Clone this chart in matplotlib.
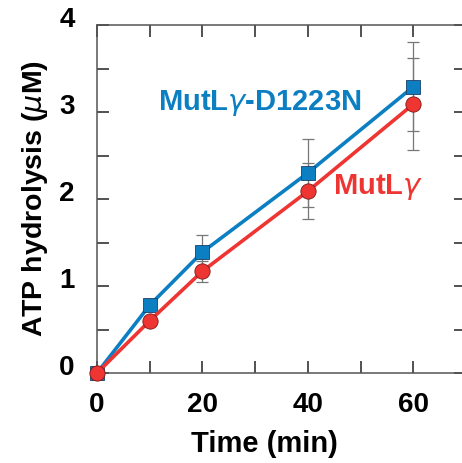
import matplotlib
matplotlib.use("Agg")
import matplotlib.pyplot as plt
import matplotlib.transforms as mtransforms

plt.rcParams['font.family'] = ['Liberation Sans', 'DejaVu Sans']
plt.rcParams['font.weight'] = 'bold'
plt.rcParams['mathtext.fontset'] = 'custom'
plt.rcParams['mathtext.it'] = 'DejaVu Sans:style=italic:weight=normal'
plt.rcParams['mathtext.rm'] = 'DejaVu Sans:weight=normal'
plt.rcParams['mathtext.bf'] = 'DejaVu Sans:style=italic:weight=normal'

time = [0, 10, 20, 40, 60]
mut_d1223n = [0.0, 0.78, 1.39, 2.30, 3.29]
mut_d1223n_err = [0.0, 0.05, 0.20, 0.39, 0.51]
mutl = [0.0, 0.60, 1.17, 2.09, 3.09]
mutl_err = [0.0, 0.05, 0.12, 0.32, 0.53]

x_major = [0, 20, 40, 60]
x_minor = [10, 30, 50, 70]
y_major = [0, 1, 2, 3, 4]
y_minor = [0.5, 1.5, 2.5, 3.5]

blue = '#0C7FC3'
red = '#EE3532'
W, H = 462, 463
fig = plt.figure(figsize=(W / 100, H / 100), dpi=100)
ax = fig.add_axes([97 / W, (H - 373) / H, (466 - 97) / W, (373 - 25) / H])

ax.errorbar(time, mut_d1223n, yerr=mut_d1223n_err, fmt='none', ecolor='#777777',
            elinewidth=0.9, capsize=4, capthick=0.9, zorder=2)
ax.errorbar(time, mutl, yerr=mutl_err, fmt='none', ecolor='#777777',
            elinewidth=0.9, capsize=4, capthick=0.9, zorder=2)
ax.plot(time, mutl, color=red, lw=2.6, marker='o', ms=11, mfc=red,
        mec='#7a1a1a', mew=0.6, zorder=4, clip_on=False)
ax.plot(time, mut_d1223n, color=blue, lw=2.6, marker='s', ms=10.5, mfc=blue,
        mec='#1b3f66', mew=0.6, zorder=3, clip_on=False)

ax.set_xlim(0, 70)
ax.set_ylim(0, 4)
ax.set_xticks(x_major + x_minor)
ax.set_xticklabels([str(v) for v in x_major] + [''] * len(x_minor))
ax.set_yticks(y_major + y_minor)
ax.set_yticklabels([str(v) for v in y_major] + [''] * len(y_minor))
ax.tick_params(direction='in', length=8.5, width=1.1, color='#222222',
               top=True, right=True, labelsize=20, pad=15)
ax.tick_params(axis='y', pad=16)
ax.tick_params(axis='x', pad=14)
offset = mtransforms.ScaledTranslation(0, 8 / 100, fig.dpi_scale_trans)
for lab in ax.get_yticklabels():
    lab.set_transform(lab.get_transform() + offset)
for sp in ax.spines.values():
    sp.set_color('#555555')
    sp.set_linewidth(1.1)

ax.set_xlabel('Time (min)', fontsize=21, fontweight='bold')
ax.xaxis.set_label_coords(0.455, -0.165)
ax.set_ylabel('ATP hydrolysis ($\\mu$M)', fontsize=20.5, fontweight='bold', labelpad=7)

ax.text(260 / W, 1 - 103 / H, 'MutL$\\gamma$-D1223N', transform=fig.transFigure,
        color=blue, fontsize=21, fontweight='bold', ha='center', va='center')
ax.text(378 / W, 1 - 187 / H, 'MutL$\\gamma$', transform=fig.transFigure,
        color=red, fontsize=21, fontweight='bold', ha='center', va='center')

fig.savefig('out.png', dpi=100)
